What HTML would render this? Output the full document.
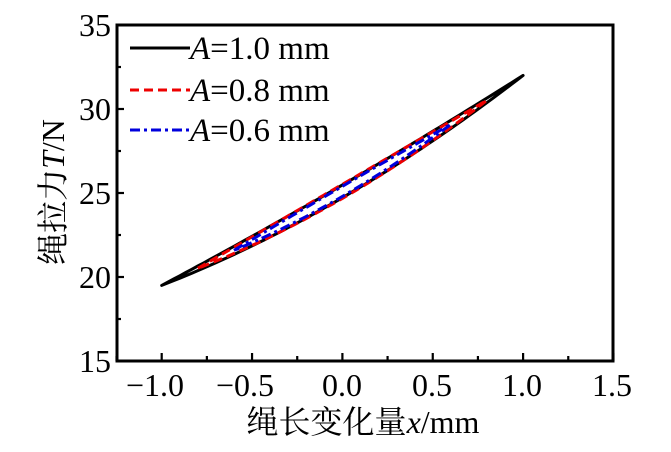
<!DOCTYPE html>
<html><head><meta charset="utf-8"><style>
html,body{margin:0;padding:0;background:#fff;}
svg{display:block;}
text{font-family:"Liberation Serif","Noto Serif CJK SC",serif;fill:#000;}
</style></head><body>
<svg id="s" width="671" height="452" viewBox="0 0 671 452" xmlns="http://www.w3.org/2000/svg">
<g id="curves" fill="none" stroke-width="3" stroke-linejoin="round"></g>
<rect x="117" y="25" width="496" height="336" fill="none" stroke="#000" stroke-width="3"/>
<g id="ticks" stroke="#000" stroke-width="2.2"></g>
<g font-size="32">
<text x="111" y="36" text-anchor="end">35</text>
<text x="111" y="120" text-anchor="end">30</text>
<text x="111" y="204" text-anchor="end">25</text>
<text x="111" y="288" text-anchor="end">20</text>
<text x="111" y="372" text-anchor="end">15</text>
<g text-anchor="middle">
<text x="155" y="396">−1.0</text>
<text x="245" y="396">−0.5</text>
<text x="342" y="396">0.0</text>
<text x="432" y="396">0.5</text>
<text x="522" y="396">1.0</text>
<text x="612" y="396">1.5</text>
</g>
<text x="363" y="433" text-anchor="middle">绳长变化量<tspan font-style="italic">x</tspan>/mm</text>
<text transform="translate(64,192) rotate(-90)" text-anchor="middle">绳拉力<tspan font-style="italic">T</tspan>/N</text>
<line x1="130" y1="48" x2="190" y2="48" stroke="#000" stroke-width="3"/>
<line x1="130" y1="90" x2="190" y2="90" stroke="#e00" stroke-width="3" stroke-dasharray="9,5"/>
<line x1="130" y1="130" x2="190" y2="130" stroke="#00d" stroke-width="3" stroke-dasharray="10,4,3,4"/>
<g font-size="33">
<text x="190" y="59"><tspan font-style="italic">A</tspan>=1.0 mm</text>
<text x="190" y="101"><tspan font-style="italic">A</tspan>=0.8 mm</text>
<text x="190" y="141"><tspan font-style="italic">A</tspan>=0.6 mm</text>
</g>
</g>
</svg>
<script>
var X=function(x){return 161.7+(x+1)*180.7;};
var Y=function(t){return 25+(35-t)*16.8;};
var tk=document.getElementById('ticks'),h='';
for(var t=15;t<=35;t+=2.5){var y=Y(t);h+='<line x1="117" y1="'+y+'" x2="'+(117+(t%5==0?7:4))+'" y2="'+y+'"/>';}
for(var x=-1.25;x<=1.5;x+=0.25){var px=X(x);var maj=Math.abs(x*2-Math.round(x*2))<1e-6;h+='<line x1="'+px+'" y1="361" x2="'+px+'" y2="'+(361-(maj?8:5))+'"/>';}
tk.innerHTML=h;
function tc(x){return 25.1+6.25*x+0.65*x*x;}
function loop(A,hw,col,dash){var up=[],lo=[];var n=60;for(var i=0;i<=n;i++){var x=-A+2*A*i/n;var u=1-(x/A)*(x/A);var w=hw*Math.max(0,u);up.push(X(x).toFixed(1)+','+Y(tc(x)+w).toFixed(1));lo.push(X(x).toFixed(1)+','+Y(tc(x)-w).toFixed(1));}
return '<path d="M'+up.join(' L')+' L'+lo.reverse().join(' L')+' Z" stroke="'+col+'"'+(dash?' stroke-dasharray="'+dash+'"':'')+'/>';}
document.getElementById('curves').innerHTML=loop(1,0.38,'#000','')+loop(0.8,0.42,'#e00','9,5')+loop(0.6,0.3,'#00d','10,4,3,4');
</script>
</body></html>
